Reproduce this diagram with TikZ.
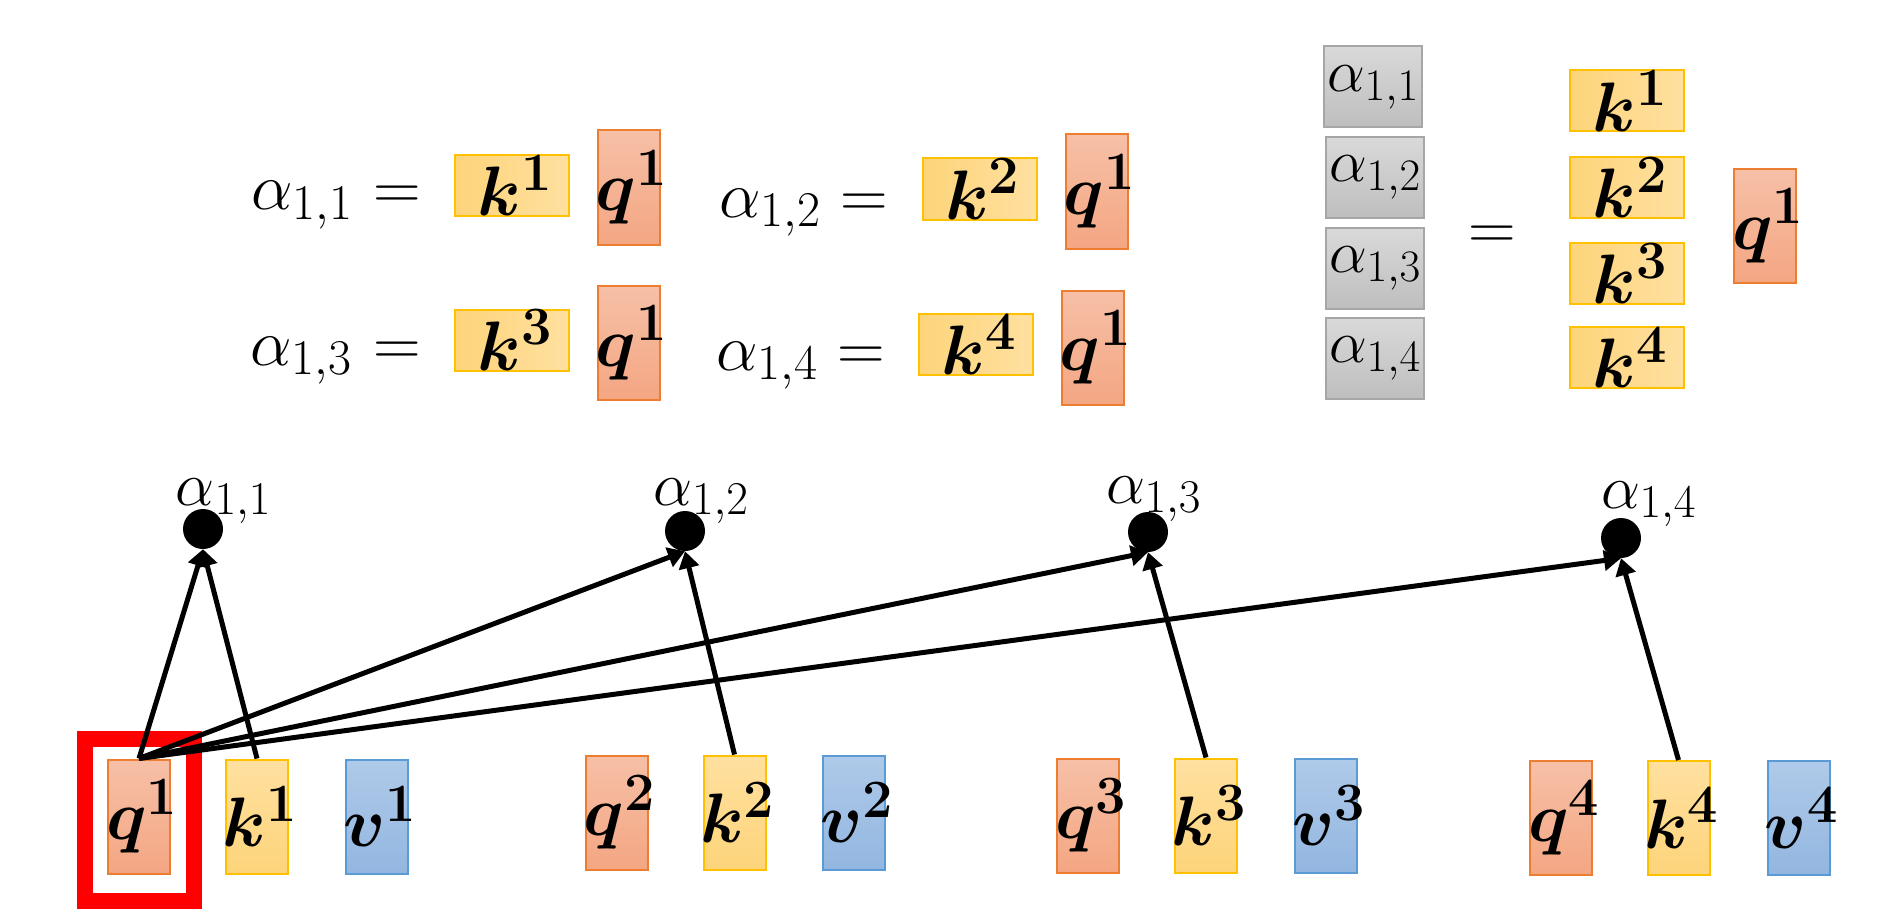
\RequirePackage{fix-cm}
\documentclass[tikz,border=0pt]{standalone}
\usepackage{amsmath}
\usepackage{bm}
\usetikzlibrary{arrows.meta}
\DeclareMathSizes{70}{70}{54}{40}
\DeclareMathSizes{66}{66}{50}{36}
\DeclareMathSizes{62}{62}{47}{34}
\DeclareMathSizes{60}{60}{45}{32}
\definecolor{qtop}{HTML}{F6C0A7}
\definecolor{qbot}{HTML}{F4A682}
\definecolor{qline}{HTML}{ED7D31}
\definecolor{klight}{HTML}{FFE0A0}
\definecolor{kdark}{HTML}{FDD47A}
\definecolor{kline}{HTML}{FFC000}
\definecolor{vtop}{HTML}{AFCAE9}
\definecolor{vbot}{HTML}{93B6E0}
\definecolor{vline}{HTML}{5B9BD5}
\definecolor{gtop}{HTML}{D9D9D9}
\definecolor{gbot}{HTML}{BEBEBE}
\definecolor{gline}{HTML}{A6A6A6}
\newcommand\bxfont{\fontsize{70}{78}\selectfont}
\newcommand\eqfont{\fontsize{66}{74}\selectfont}
\newcommand\lblfont{\fontsize{62}{70}\selectfont}
\newcommand\grfont{\fontsize{60}{68}\selectfont}
\newcommand\vecsym[2]{\makebox[0pt]{\hspace*{6pt}$\bm{#1}^{\mathbf{#2}}$}}
\newcommand\galpha[1]{\makebox[0pt]{$\alpha_{1,#1}$}}
\begin{document}
\begin{tikzpicture}[x=1pt,y=-1pt,
  box/.style={inner sep=0pt, line width=2pt, font=\bxfont},
  qbox/.style={box, draw=qline, top color=qtop, bottom color=qbot, minimum width=62pt, minimum height=114pt},
  kbox/.style={box, draw=kline, top color=klight, bottom color=kdark, minimum width=62pt, minimum height=114pt},
  vbox/.style={box, draw=vline, top color=vtop, bottom color=vbot, minimum width=62pt, minimum height=114pt},
  kwide/.style={box, draw=kline, left color=kdark, right color=klight, minimum width=114pt, minimum height=61pt},
  gbox/.style={inner sep=0pt, line width=2pt, draw=gline, top color=gtop, bottom color=gbot, minimum width=98pt, minimum height=81pt, font=\grfont},
  eqtext/.style={inner sep=0pt, anchor=base, font=\eqfont},
  lbl/.style={inner sep=0pt, anchor=base, font=\lblfont},
  dot/.style={circle, fill=black, inner sep=0pt, minimum size=40pt},
  arr/.style={line width=5pt, -{Triangle[length=17pt,width=20pt]}},
  sel/.style={draw=red, line width=16pt, minimum width=109pt, minimum height=162pt, inner sep=0pt}
]
\useasboundingbox (0,0) rectangle (1886,912);

% ---- top-left equations ----
\node[eqtext] (a11) at (302,210) {$\alpha_{1,1}$};
\node[eqtext] (e11) at (397,210) {$=$};
\node[kwide] (tk1) at (512,185.5) {\vecsym{k}{1}};
\node[qbox] (tq1) at (628.5,187.5) {\vecsym{q}{1}};

\node[eqtext] (a12) at (770,217) {$\alpha_{1,2}$};
\node[eqtext] (e12) at (864.5,217) {$=$};
\node[kwide] (tk2) at (979.5,189) {\vecsym{k}{2}};
\node[qbox] (tq2) at (1096.5,191.5) {\vecsym{q}{1}};

\node[eqtext] (a13) at (301,365) {$\alpha_{1,3}$};
\node[eqtext] (e13) at (397,365) {$=$};
\node[kwide] (tk3) at (512,340) {\vecsym{k}{3}};
\node[qbox] (tq3) at (628.5,343) {\vecsym{q}{1}};

\node[eqtext] (a14) at (767,370) {$\alpha_{1,4}$};
\node[eqtext] (e14) at (861.5,370) {$=$};
\node[kwide] (tk4) at (976,344.5) {\vecsym{k}{4}};
\node[qbox] (tq4) at (1092.5,347.5) {\vecsym{q}{1}};

% ---- top-right vector equation ----
\node[gbox] (g1) at (1373,87) {\galpha{1}};
\node[gbox] (g2) at (1375,177.5) {\galpha{2}};
\node[gbox] (g3) at (1375,268.5) {\galpha{3}};
\node[gbox] (g4) at (1375,358.5) {\galpha{4}};
\node[eqtext, anchor=center] (eqr) at (1492,238) {$=$};
\node[kwide] (rk1) at (1627,101) {\vecsym{k}{1}};
\node[kwide] (rk2) at (1627,187.5) {\vecsym{k}{2}};
\node[kwide] (rk3) at (1627,273.5) {\vecsym{k}{3}};
\node[kwide] (rk4) at (1627,357.5) {\vecsym{k}{4}};
\node[qbox] (rq) at (1765,226) {\vecsym{q}{1}};

% ---- bottom: q, k, v ----
\node[sel] (hl) at (139.5,820) {};
\node[qbox] (q1) at (139,816.5) {\vecsym{q}{1}};
\node[kbox] (k1) at (257,816.5) {\vecsym{k}{1}};
\node[vbox] (v1) at (377,816.5) {\vecsym{v}{1}};
\node[qbox] (q2) at (616.5,812.5) {\vecsym{q}{2}};
\node[kbox] (k2) at (734.5,812.5) {\vecsym{k}{2}};
\node[vbox] (v2) at (854,812.5) {\vecsym{v}{2}};
\node[qbox] (q3) at (1088,815.5) {\vecsym{q}{3}};
\node[kbox] (k3) at (1206,815.5) {\vecsym{k}{3}};
\node[vbox] (v3) at (1326,815.5) {\vecsym{v}{3}};
\node[qbox] (q4) at (1561,818) {\vecsym{q}{4}};
\node[kbox] (k4) at (1678.5,818) {\vecsym{k}{4}};
\node[vbox] (v4) at (1798.5,818) {\vecsym{v}{4}};

% ---- attention score dots ----
\node[dot] (d1) at (203,529) {};
\node[dot] (d2) at (685,531) {};
\node[dot] (d3) at (1148,532) {};
\node[dot] (d4) at (1621,538) {};
\node[lbl] (l1) at (223.5,505) {$\alpha_{1,1}$};
\node[lbl] (l2) at (701,505) {$\alpha_{1,2}$};
\node[lbl] (l3) at (1153.5,503) {$\alpha_{1,3}$};
\node[lbl] (l4) at (1648.5,508) {$\alpha_{1,4}$};

% ---- arrows ----
\draw[arr] (q1.north) -- (d1.south);
\draw[arr] (k1.north) -- (d1.south);
\draw[arr] (q1.north) -- (d2.south);
\draw[arr] (q1.north) -- (d3.south);
\draw[arr] (q1.north) -- (d4.south);
\draw[arr] (k2.north) -- (d2.south);
\draw[arr] (k3.north) -- (d3.south);
\draw[arr] (k4.north) -- (d4.south);
\end{tikzpicture}
\end{document}
